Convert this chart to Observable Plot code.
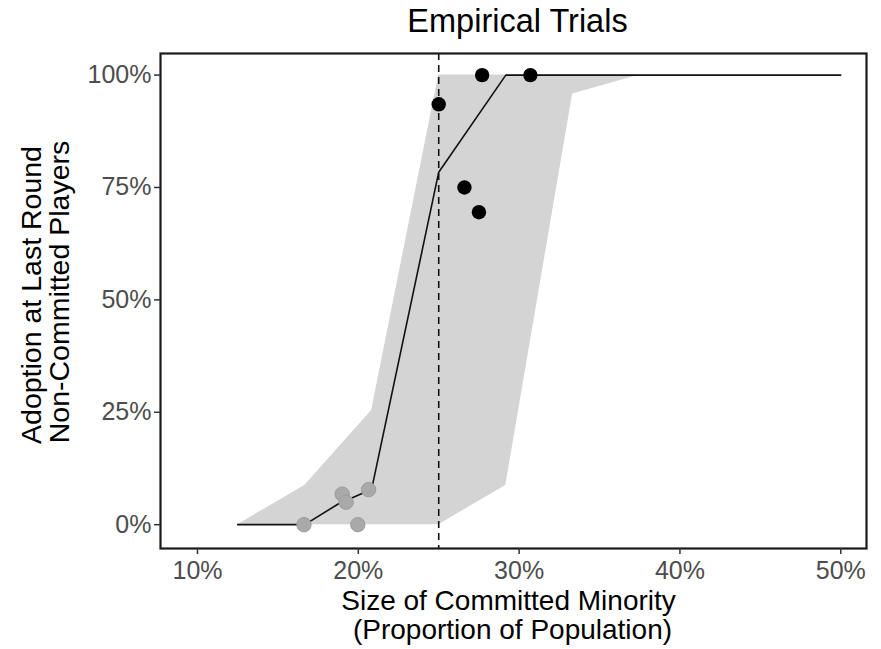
<!DOCTYPE html>
<html>
<head>
<meta charset="utf-8">
<script src="https://cdn.jsdelivr.net/npm/d3@7"></script>
<script src="https://cdn.jsdelivr.net/npm/@observablehq/plot@0.6"></script>
<style>
  html, body { margin: 0; padding: 0; background: #fff; }
</style>
</head>
<body>
<div id="chart"></div>
<script>
// Model prediction line (x: % committed minority, y: % adoption)
const modelX = [12.5, 16.67, 18.75, 20.83, 25, 29.17, 50];
const modelY = [0, 0, 4.6, 7.9, 78.4, 100, 100];

// Shaded band bounds
const bandX = [12.5, 16.67, 20.83, 25, 29.17, 33.33, 37.5, 50];
const bandLower = [0, 0, 0, 0, 8.7, 95.8, 100, 100];
const bandUpper = [0, 8.7, 25.4, 100, 100, 100, 100, 100];

// Empirical trials: reached tipping (black) and not (gray)
const blackX = [25.0, 27.7, 30.7, 26.6, 27.5];
const blackY = [93.5, 100, 100, 75, 69.5];
const grayX = [16.62, 19.0, 19.24, 20.64, 19.97];
const grayY = [0, 6.8, 5.0, 7.8, 0];

const threshold = [25];
const xTicks = [10, 20, 30, 40, 50];
const yTicks = [0, 25, 50, 75, 100];

const title = "Empirical Trials";
const xLabel1 = "Size of Committed Minority";
const xLabel2 = "(Proportion of Population)";
const yLabel1 = "Adoption at Last Round";
const yLabel2 = "Non-Committed Players";

const model = modelX.map((x, i) => ({x, y: modelY[i]}));
const band = bandX.map((x, i) => ({x, lo: bandLower[i], hi: bandUpper[i]}));
const black = blackX.map((x, i) => ({x, y: blackY[i]}));
const gray = grayX.map((x, i) => ({x, y: grayY[i]}));
const pct = d => d + "%";

const font = "'Liberation Sans', Arial, Helvetica, sans-serif";

const chart = Plot.plot({
  width: 881,
  height: 649,
  marginLeft: 160,
  marginRight: 15,
  marginTop: 53,
  marginBottom: 101,
  style: {fontFamily: font, background: "#fff", overflow: "visible"},
  x: {domain: [7.7, 51.6]},
  y: {domain: [-5.3, 104.8]},
  marks: [
    Plot.areaY(band, {x: "x", y1: "lo", y2: "hi", fill: "#d4d4d4", curve: "linear"}),
    Plot.ruleX(threshold, {stroke: "#111", strokeWidth: 1.6, strokeDasharray: "7,5"}),
    Plot.line(model, {x: "x", y: "y", stroke: "#111", strokeWidth: 1.6}),
    Plot.dot(gray, {x: "x", y: "y", r: 7.2, fill: "#a9a9a9", stroke: "#9c9c9c", strokeWidth: 1}),
    Plot.dot(black, {x: "x", y: "y", r: 7.2, fill: "#000"}),
    Plot.frame({stroke: "#1a1a1a", strokeWidth: 2.2}),
    Plot.axisX({ticks: xTicks, tickFormat: pct, tickSize: 6, tickPadding: 7, fontSize: 25,
      color: "#4d4d4d", stroke: "#333", strokeWidth: 1.5, label: null}),
    Plot.axisY({ticks: yTicks, tickFormat: pct, tickSize: 6, tickPadding: 3, fontSize: 25,
      color: "#4d4d4d", stroke: "#333", strokeWidth: 1.5, label: null}),
    Plot.text([title], {frameAnchor: "top", lineAnchor: "bottom", dy: -22, dx: 4,
      fontSize: 32.5, fill: "#000"}),
    Plot.text([xLabel1], {frameAnchor: "bottom", lineAnchor: "bottom", dy: 61, dx: -5,
      fontSize: 28, fill: "#000"}),
    Plot.text([xLabel2], {frameAnchor: "bottom", lineAnchor: "bottom", dy: 90, dx: -1,
      fontSize: 28, fill: "#000"}),
    Plot.text([yLabel1], {frameAnchor: "left", textAnchor: "middle", lineAnchor: "bottom", rotate: -90,
      dx: -120, dy: -6, fontSize: 28.5, fill: "#000"}),
    Plot.text([yLabel2], {frameAnchor: "left", textAnchor: "middle", lineAnchor: "bottom", rotate: -90,
      dx: -92, dy: -9, fontSize: 28.5, fill: "#000"})
  ]
});

document.getElementById("chart").append(chart);
</script>
</body>
</html>
